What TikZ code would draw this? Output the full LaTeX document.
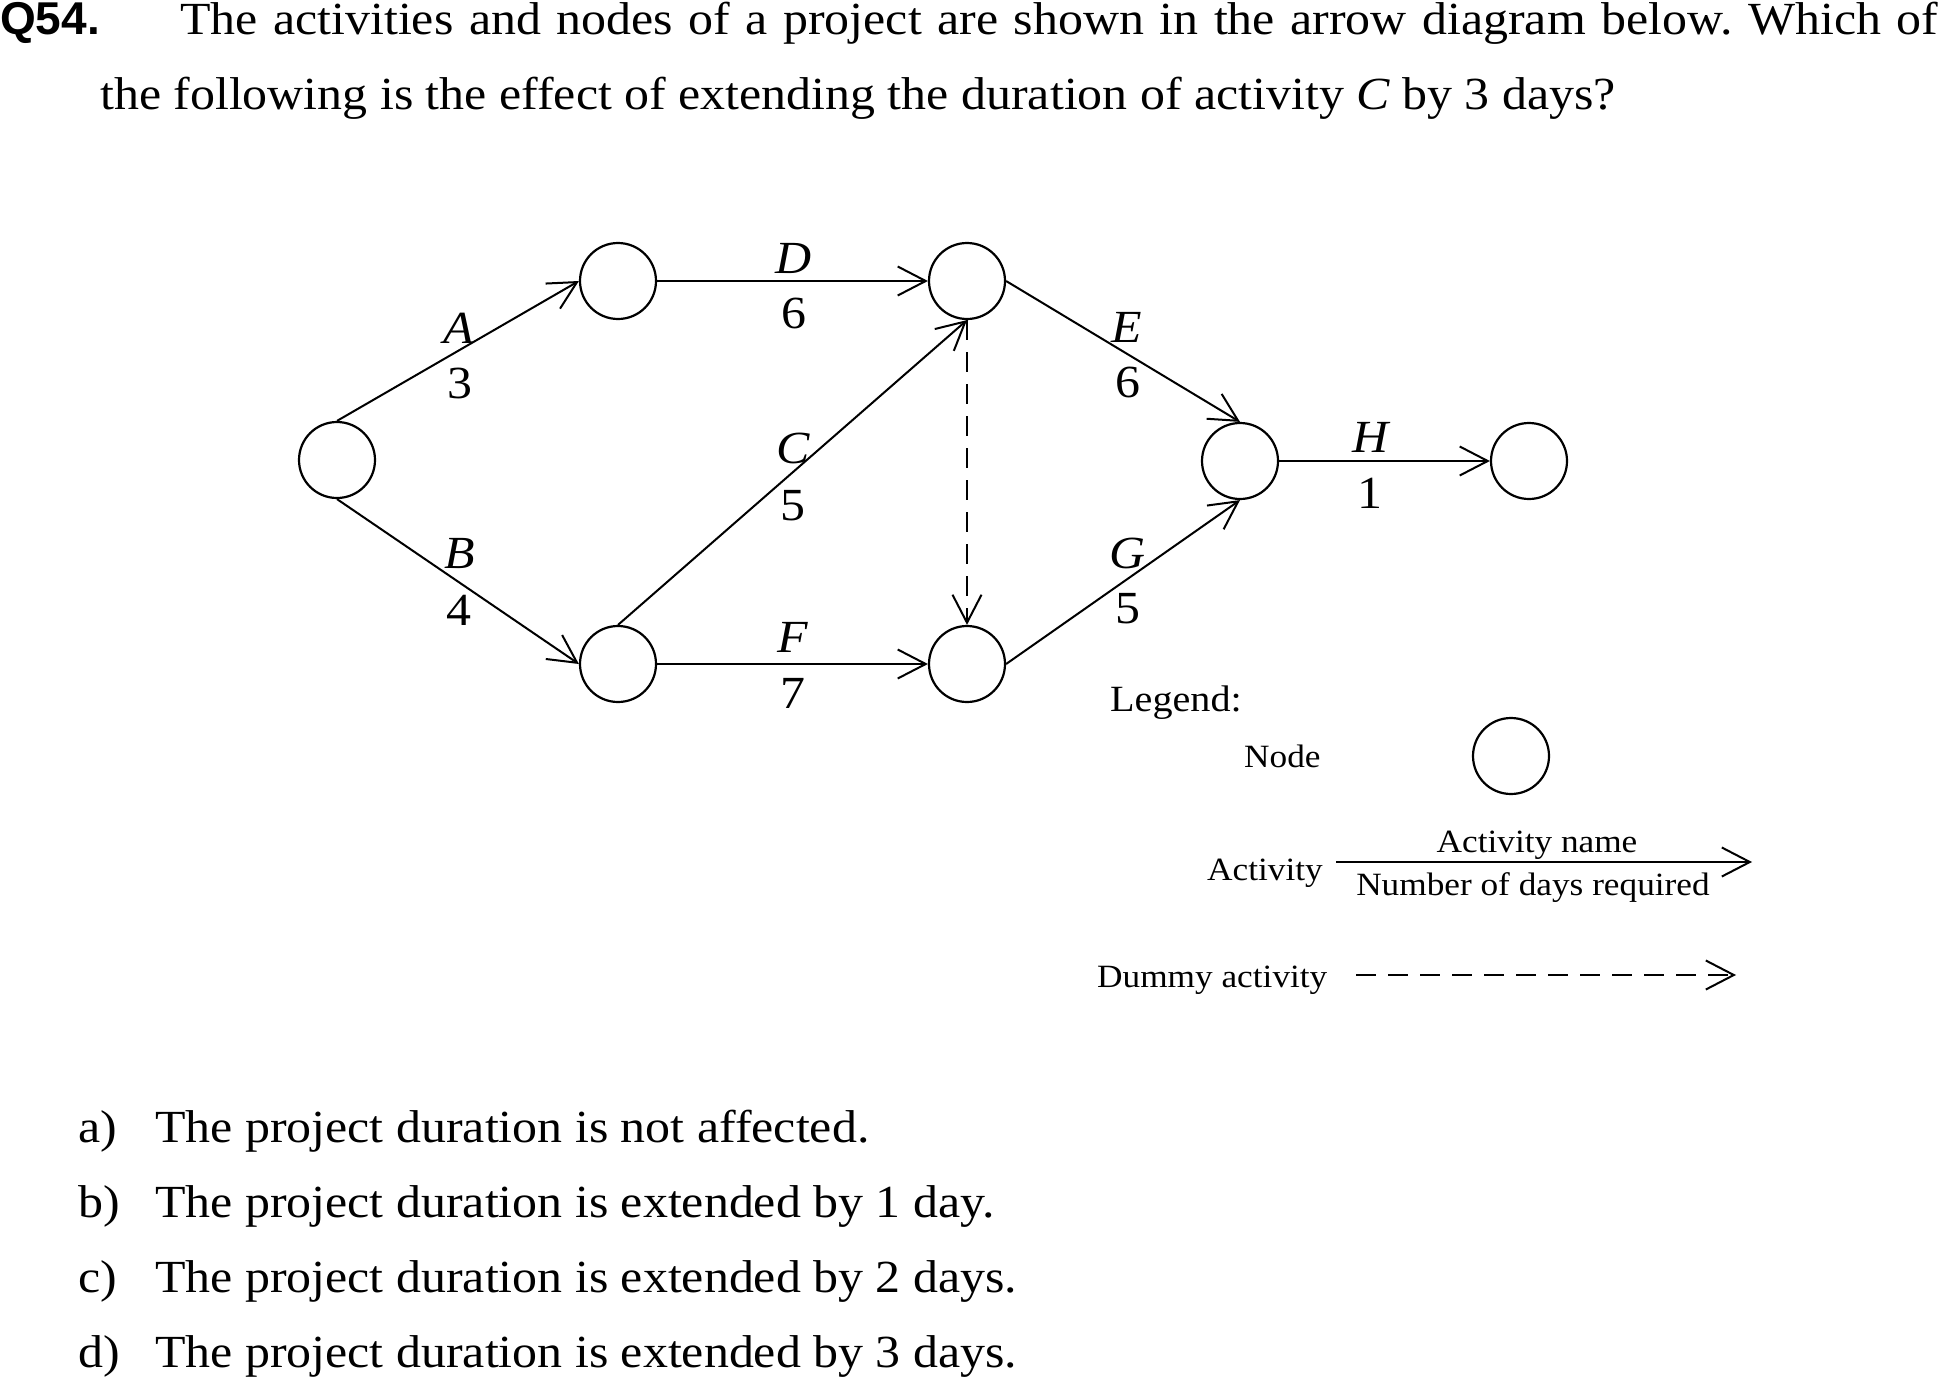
\documentclass[tikz,border=0pt]{standalone}
\usepackage{fontspec}
\setmainfont{Liberation Serif}[FakeStretch=1.085]
\newfontfamily\qfont{Liberation Sans}
\usetikzlibrary{arrows.meta}
\frenchspacing
\newcommand\mybig{\fontsize{46pt}{52pt}\selectfont}
\newcommand\mysmall{\fontsize{32.5pt}{38pt}\selectfont}
\tikzset{
  evt/.style={circle, draw, line width=2.2pt, minimum size=76pt, inner sep=0pt},
  act/.style={line width=2pt, -{Straight Barb[length=28pt,width=29pt,line width=2pt]}},
  dummy/.style={act, dash pattern=on 20pt off 12pt},
  lbl/.style={anchor=base, inner sep=0pt, font=\mybig},
  txt/.style={anchor=base west, inner sep=0pt, font=\mybig},
  stxt/.style={anchor=base west, inner sep=0pt, font=\mysmall},
}
\begin{document}
\begin{tikzpicture}[x=1pt,y=-1pt]
\useasboundingbox (0,0) rectangle (1940,1378);
% question
\node[txt] (q) at (0,35) {\qfont\bfseries Q54.};
\node[txt] (l1) at (180,35) {\makebox[1758pt][s]{The activities and nodes of a project are shown in the arrow diagram below. Which of}};
\node[txt] (l2) at (100,110) {the following is the effect of extending the duration of activity \textit{C} by 3 days?};
% network nodes
\node[evt] (n1) at (337,460) {};
\node[evt] (n2) at (618,281) {};
\node[evt] (n3) at (967,281) {};
\node[evt] (n4) at (618,664) {};
\node[evt] (n5) at (967,664) {};
\node[evt] (n6) at (1240,461) {};
\node[evt] (n7) at (1529,461) {};
% activities
\draw[act] (n1.north) -- (n2.west);
\draw[act] (n1.south) -- (n4.west);
\draw[act] (n2.east) -- (n3.west);
\draw[act] (n4.north) -- (n3.south);
\draw[act] (n4.east) -- (n5.west);
\draw[dummy] (n3.south) -- (n5.north);
\draw[act] (n3.east) -- (n6.north);
\draw[act] (n5.east) -- (n6.south);
\draw[act] (n6.east) -- (n7.west);
% labels
\node[lbl] (la) at (459,343) {\textit{A}};
\node[lbl] (la2) at (460,398) {3};
\node[lbl] (lb) at (460,568) {\textit{B}};
\node[lbl] (lb2) at (459,625) {4};
\node[lbl] (ld) at (794,273) {\textit{D}};
\node[lbl] (ld2) at (794,328) {6};
\node[lbl] (lc) at (793,463) {\textit{C}};
\node[lbl] (lc2) at (793,520) {5};
\node[lbl] (lf) at (793,652) {\textit{F}};
\node[lbl] (lf2) at (793,708) {7};
\node[lbl] (le) at (1127,342) {\textit{E}};
\node[lbl] (le2) at (1128,397) {6};
\node[lbl] (lg) at (1128,568) {\textit{G}};
\node[lbl] (lg2) at (1128,623) {5};
\node[lbl] (lh) at (1372,452) {\textit{H}};
\node[lbl] (lh2) at (1370,508) {1};
% legend
\node[txt, font=\fontsize{37pt}{43pt}\selectfont] (leg) at (1110,711) {Legend:};
\node[stxt] (lnode) at (1244,767) {Node};
\node[evt] (ln) at (1511,756) {};
\node[stxt, anchor=base east] (lact) at (1323,880) {Activity};
\coordinate (a1) at (1336,862);
\coordinate (a2) at (1752,862);
\draw[act] (a1) -- (a2);
\node[stxt, anchor=base] (lan) at (1537,852) {Activity name};
\node[stxt, anchor=base] (lnd) at (1533,895) {Number of days required};
\node[stxt] (ldum) at (1097,987) {Dummy activity};
\coordinate (d1) at (1356,975);
\coordinate (d2) at (1736,975);
\draw[dummy] (d1) -- (d2);
% choices
\node[txt] (ca) at (78,1142) {a)};
\node[txt] (ta) at (155,1142) {The project duration is not affected.};
\node[txt] (cb) at (78,1217) {b)};
\node[txt] (tb) at (155,1217) {The project duration is extended by 1 day.};
\node[txt] (cc) at (78,1292) {c)};
\node[txt] (tc) at (155,1292) {The project duration is extended by 2 days.};
\node[txt] (cd) at (78,1367) {d)};
\node[txt] (td) at (155,1367) {The project duration is extended by 3 days.};
\end{tikzpicture}
\end{document}
